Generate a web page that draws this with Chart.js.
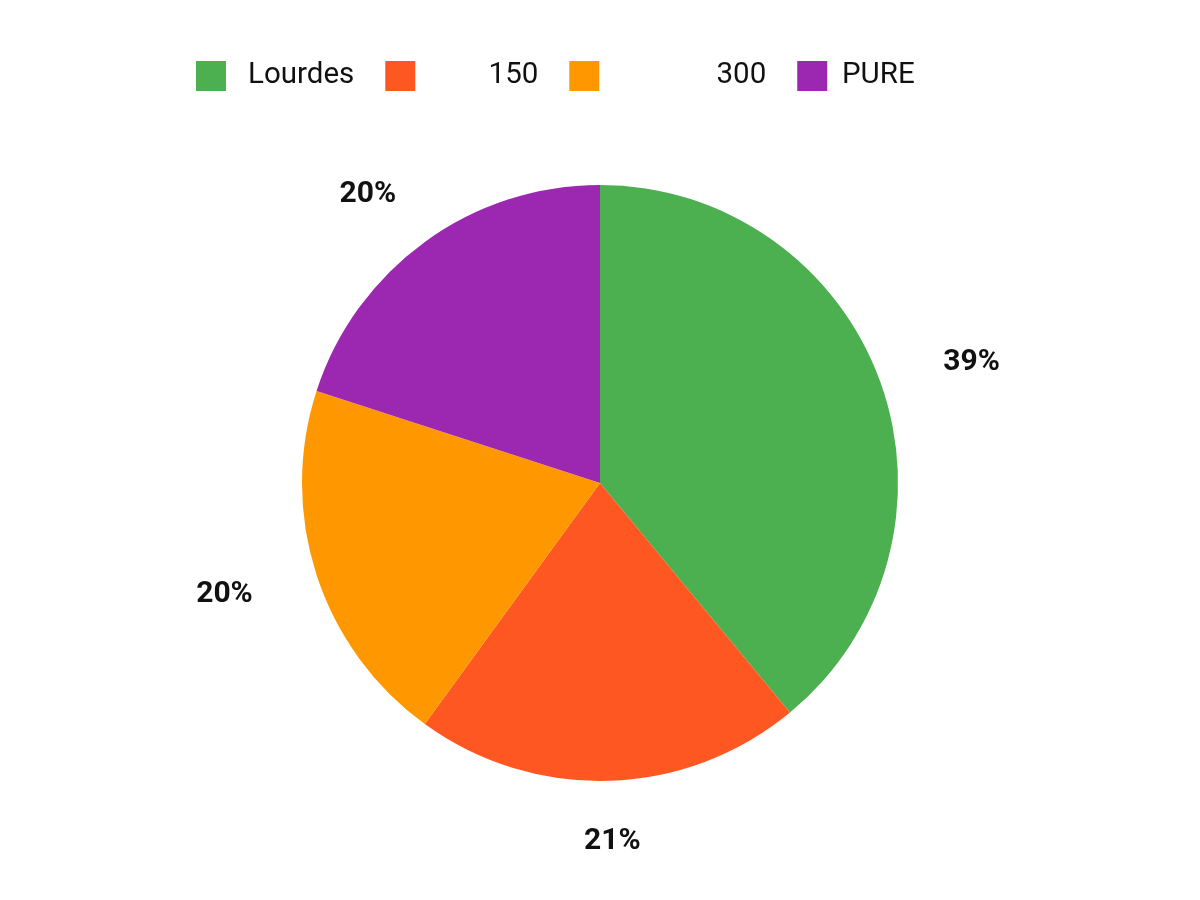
<!DOCTYPE html>
<html>
<head>
<meta charset="utf-8">
<script src="https://cdn.jsdelivr.net/npm/chart.js@4"></script>
<style>
  html, body { margin: 0; padding: 0; background: #ffffff; }
  #wrap { width: 1200px; height: 900px; position: relative; }
</style>
</head>
<body>
<div id="wrap"><canvas id="c" width="1200" height="900"></canvas></div>
<script>
const categories = [' Lourdes', '        150', '              300', 'PURE'];
const values = [39, 21, 20, 20];
const colors = ['#4CAF50', '#FF5722', '#FF9800', '#9C27B0'];

const outsideLabels = {
  id: 'outsideLabels',
  afterDatasetsDraw(chart) {
    const ctx = chart.ctx;
    const meta = chart.getDatasetMeta(0);
    const total = values.reduce((a, b) => a + b, 0);
    ctx.save();
    ctx.font = 'bold 30px Roboto';
    ctx.fillStyle = '#111111';
    ctx.textAlign = 'center';
    ctx.textBaseline = 'middle';
    meta.data.forEach((arc, i) => {
      const p = arc.getProps(['x', 'y', 'startAngle', 'endAngle', 'outerRadius'], true);
      const mid = (p.startAngle + p.endAngle) / 2;
      const x = p.x + 1.325 * p.outerRadius * Math.cos(mid);
      const y = p.y + 1.2 * p.outerRadius * Math.sin(mid);
      const pct = Math.round(values[i] / total * 100) + '%';
      ctx.fillText(pct, x, y + 1);
    });
    ctx.restore();
  }
};

new Chart(document.getElementById('c'), {
  type: 'pie',
  data: {
    labels: categories,
    datasets: [{
      data: values,
      backgroundColor: colors,
      borderWidth: 0
    }]
  },
  options: {
    responsive: false,
    animation: false,
    radius: 298,
    layout: { padding: { top: 30, bottom: 35, left: 165, right: 165 } },
    plugins: {
      legend: {
        position: 'top',
        align: 'start',
        labels: {
          boxWidth: 30,
          boxHeight: 30,
          padding: 31,
          color: '#111111',
          font: { family: 'Roboto', size: 29.5 }
        }
      },
      tooltip: { enabled: false }
    }
  },
  plugins: [outsideLabels]
});
</script>
</body>
</html>
